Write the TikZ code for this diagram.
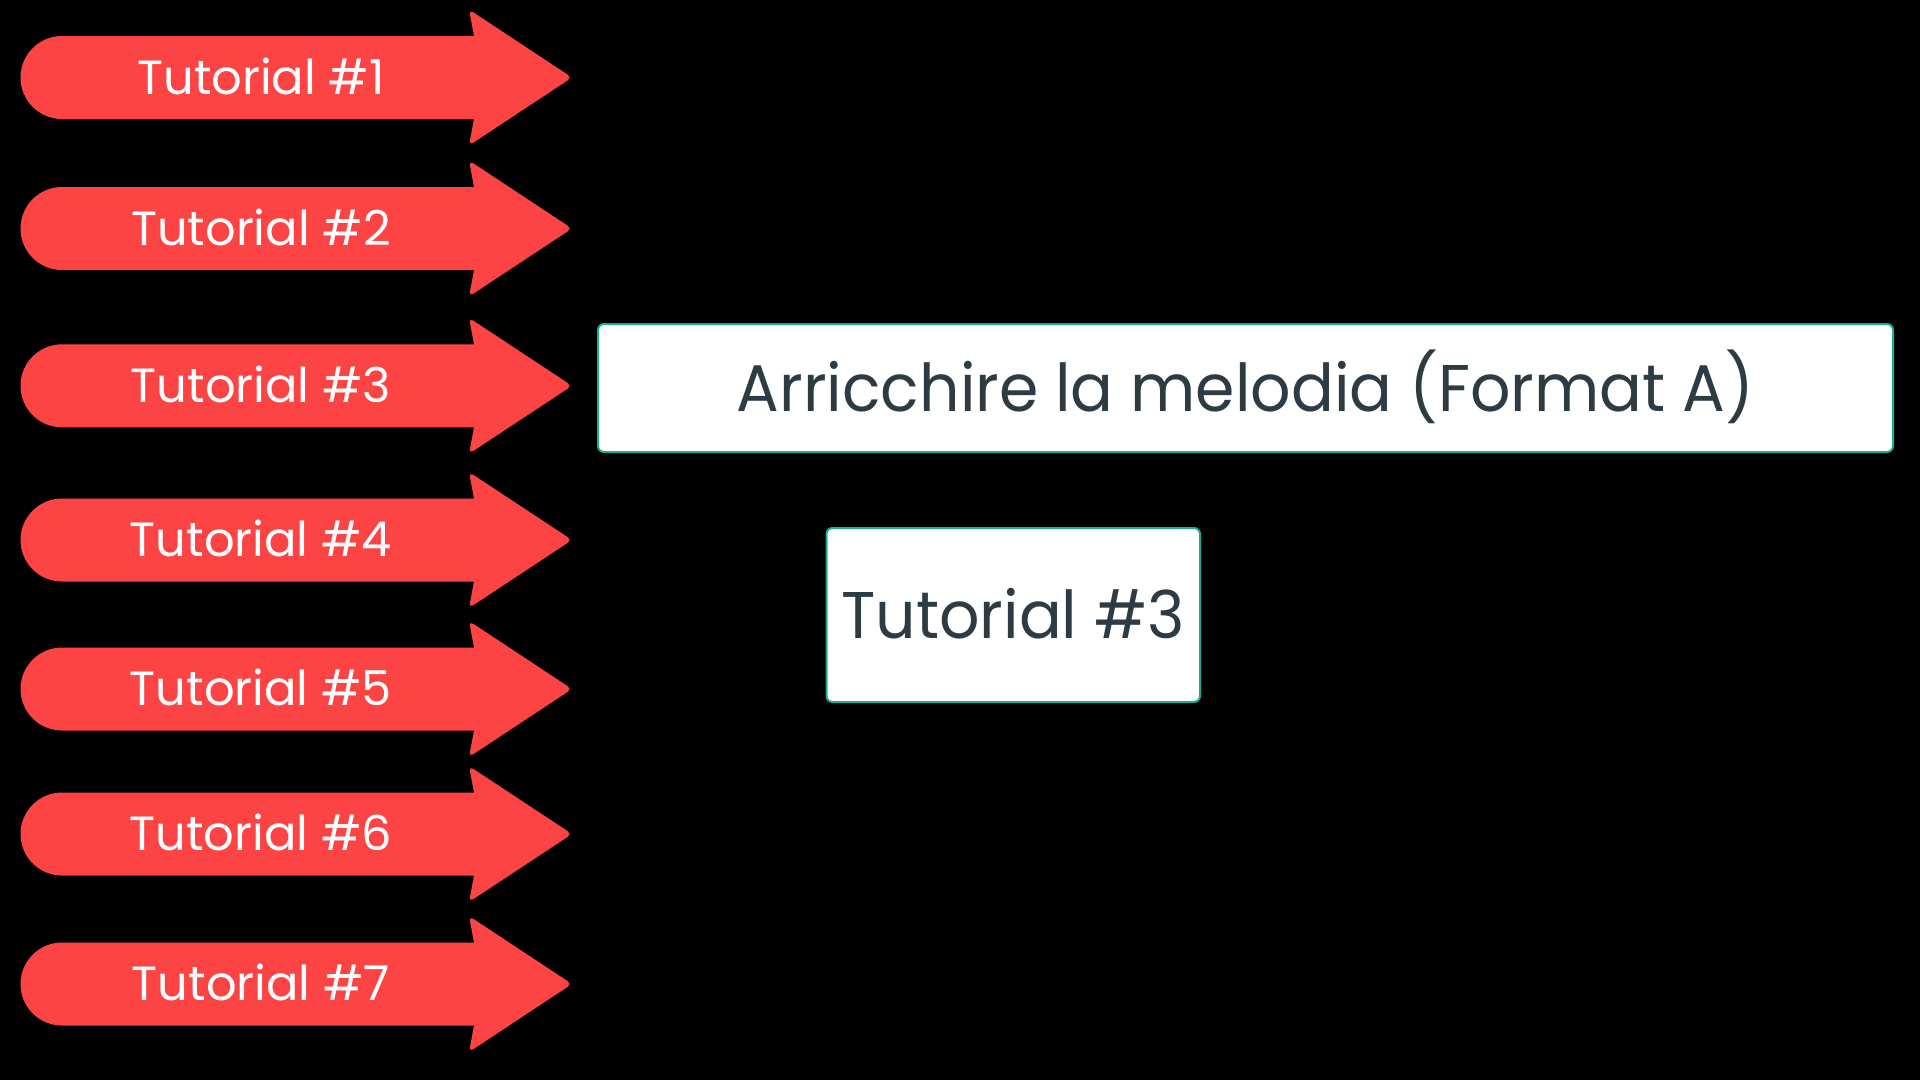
\documentclass[tikz,border=0pt]{standalone}
\usepackage{fontspec}
\setmainfont{Poppins}
\newfontfamily\boxfont[FakeStretch=0.96]{Poppins}
\definecolor{arrowred}{HTML}{FD4445}
\definecolor{boxteal}{HTML}{1AAE8F}
\definecolor{boxtext}{HTML}{2D3B45}
\begin{document}
\begin{tikzpicture}[x=1pt,y=-1pt,
  arrowshape/.style={fill=arrowred},
  arrowlabel/.style={text=white,font=\fontsize{48}{48}\selectfont,inner sep=0pt,text height=33.6pt,text depth=0pt},
  infobox/.style={draw=boxteal,line width=2pt,fill=white,rounded corners=6pt,inner sep=0pt,text=boxtext,font=\boxfont\fontsize{66}{66}\selectfont,text height=46.2pt,text depth=0pt}]
\useasboundingbox (0,0) rectangle (1920,1080);
\fill[black] (0,0) rectangle (1920,1080);
\foreach \i/\cy in {1/77.5,2/228.5,3/385.8,4/540,5/689,6/834,7/984} {
  \fill[arrowshape] (62,\cy-41.5) -- (474,\cy-41.5) [rounded corners=5pt] -- (469,\cy-68) -- (572,\cy) -- (469,\cy+68) [sharp corners] -- (474,\cy+41.5) -- (62,\cy+41.5) arc[start angle=90,end angle=270,radius=41.5] -- cycle;
  \node[arrowlabel] (t\i) at (261,\cy) {Tutorial \#\i};
}
\node[infobox,minimum width=1295pt,minimum height=128pt] (format) at (1245.5,388) {Arricchire la melodia (Format A)};
\node[infobox,minimum width=373.5pt,minimum height=174pt] (tut3) at (1013.25,615) {Tutorial \#3};
\end{tikzpicture}
\end{document}
